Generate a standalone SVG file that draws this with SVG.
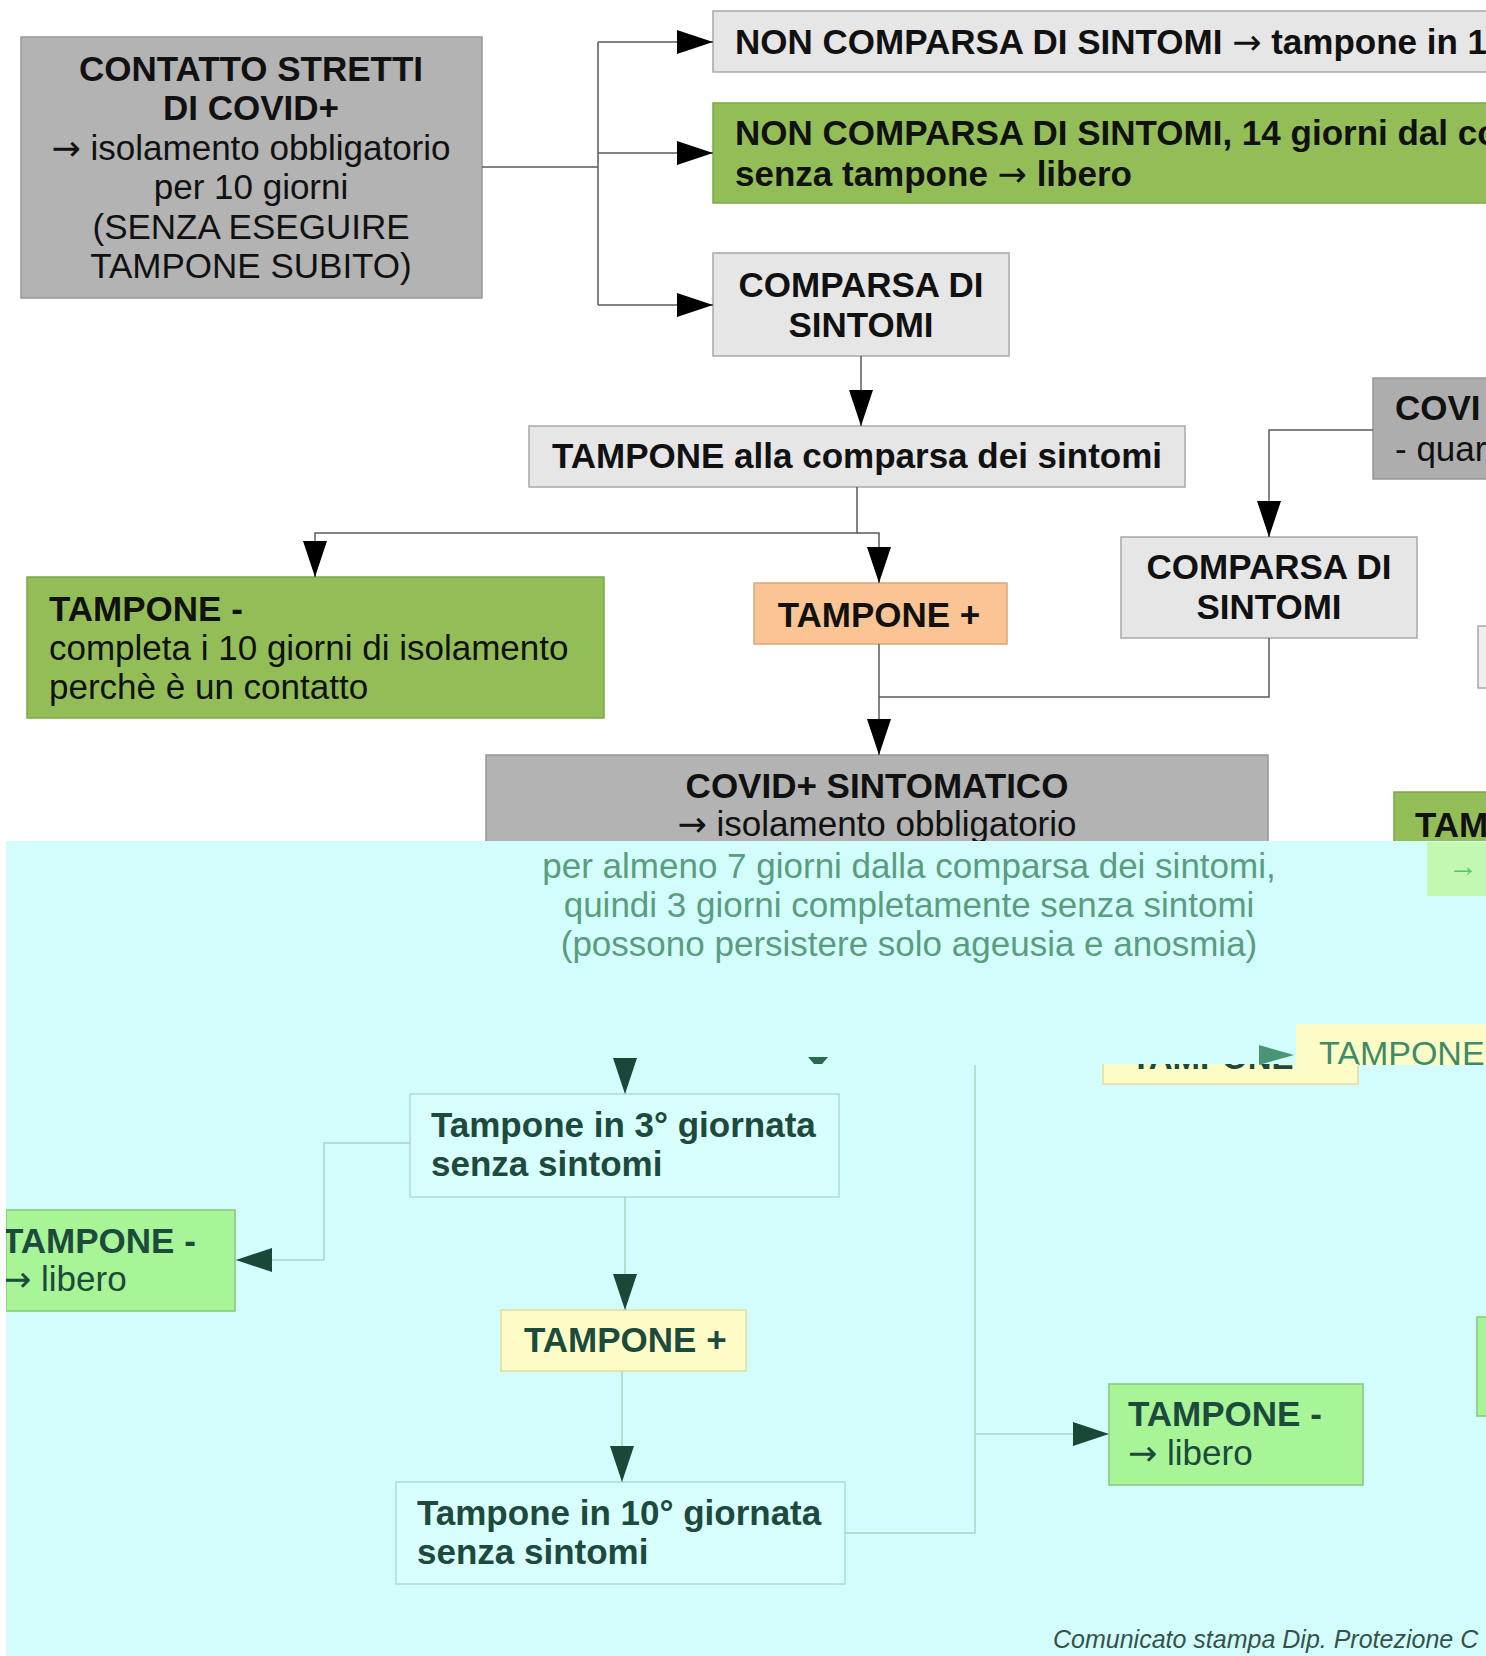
<svg xmlns="http://www.w3.org/2000/svg" width="1486" height="1656" viewBox="0 0 1486 1656">
<defs>
<style>
text { font-family: "Liberation Sans", Arial, sans-serif; font-size: 35px; fill: #111; }
.b { font-weight: bold; }
.g { fill: #1c4a3c; }
.m { text-anchor: middle; }
.mid { fill: #5a9d7e; }
.ar { font-family: "DejaVu Sans", sans-serif; font-size: 35px; font-weight: normal; }
.gray { fill: #b3b3b3; stroke: #989898; stroke-width: 1.5; }
.lg { fill: #e6e6e6; stroke: #a8a8a8; stroke-width: 1.5; }
.grn { fill: #93be57; stroke: #7ea848; stroke-width: 1.5; }
.org { fill: #fbc494; stroke: #d9a878; stroke-width: 1.5; }
.lgrn { fill: #a7f596; stroke: #86c878; stroke-width: 1.5; }
.yel { fill: #fdfcc7; stroke: #e2dca0; stroke-width: 1.5; }
.cyb { fill: #d9fefe; stroke: #acdcd2; stroke-width: 1.5; }
.c1 { fill: none; stroke: #5a5a5a; stroke-width: 1.5; }
.c2 { fill: none; stroke: #a4d6c6; stroke-width: 1.5; }
</style>
<marker id="ah" markerUnits="userSpaceOnUse" markerWidth="36" markerHeight="24" refX="36" refY="12" orient="auto"><path d="M0,0 L36,12 L0,24 z" fill="#000"/></marker>
<marker id="ahg" markerUnits="userSpaceOnUse" markerWidth="36" markerHeight="24" refX="36" refY="12" orient="auto"><path d="M0,0 L36,12 L0,24 z" fill="#1a4838"/></marker>
<clipPath id="seam"><rect x="1100" y="1064" width="300" height="30"/></clipPath>
</defs>
<rect x="0" y="0" width="1486" height="1656" fill="#ffffff"/>

<!-- top section nodes -->
<g id="contatto">
<rect class="gray" x="21" y="37" width="461" height="261"/>
<text class="b m" x="251" y="81">CONTATTO STRETTI</text>
<text class="b m" x="251" y="120">DI COVID+</text>
<text class="m" x="251" y="160"><tspan class="ar">→</tspan> isolamento obbligatorio</text>
<text class="m" x="251" y="199">per 10 giorni</text>
<text class="m" x="251" y="239">(SENZA ESEGUIRE</text>
<text class="m" x="251" y="278">TAMPONE SUBITO)</text>
</g>
<g id="non-comparsa-1">
<rect class="lg" x="713" y="11" width="790" height="61"/>
<text class="b" x="735" y="54">NON COMPARSA DI SINTOMI <tspan class="ar">→</tspan> tampone in 1</text>
</g>
<g id="non-comparsa-2">
<rect class="grn" x="713" y="103" width="790" height="100"/>
<text class="b" x="735" y="145">NON COMPARSA DI SINTOMI, 14 giorni dal co</text>
<text class="b" x="735" y="186">senza tampone <tspan class="ar">→</tspan> libero</text>
</g>
<g id="comparsa-1">
<rect class="lg" x="713" y="253" width="296" height="103"/>
<text class="b m" x="861" y="297">COMPARSA DI</text>
<text class="b m" x="861" y="337">SINTOMI</text>
</g>
<g id="tampone-alla">
<rect class="lg" x="529" y="426" width="656" height="61"/>
<text class="b m" x="857" y="468">TAMPONE alla comparsa dei sintomi</text>
</g>
<g id="tampone-neg-top">
<rect class="grn" x="27" y="577" width="577" height="141"/>
<text class="b" x="49" y="621">TAMPONE -</text>
<text x="49" y="660">completa i 10 giorni di isolamento</text>
<text x="49" y="699">perchè è un contatto</text>
</g>
<g id="tampone-pos-top">
<rect class="org" x="754" y="583" width="253" height="61"/>
<text class="b m" x="879" y="627">TAMPONE +</text>
</g>
<g id="covid-right">
<rect class="gray" x="1373" y="378" width="130" height="101" style="fill:#adadad"/>
<text class="b" x="1395" y="420">COVI</text>
<text x="1395" y="461">- quar</text>
</g>
<g id="comparsa-2">
<rect class="lg" x="1121" y="537" width="296" height="101"/>
<text class="b m" x="1269" y="579">COMPARSA DI</text>
<text class="b m" x="1269" y="619">SINTOMI</text>
</g>
<g id="edge-box">
<rect class="lg" x="1478" y="626" width="30" height="62" style="fill:#efefef"/>
</g>
<g id="covid-sintomatico">
<rect class="gray" x="486" y="755" width="782" height="120"/>
<text class="b m" x="877" y="798">COVID+ SINTOMATICO</text>
<text class="m" x="877" y="836"><tspan class="ar">→</tspan> isolamento obbligatorio</text>
</g>
<g id="tam-right">
<rect class="grn" x="1394" y="792" width="110" height="70"/>
<text class="b" x="1415" y="837">TAM</text>
</g>

<!-- top connectors -->
<g id="connectors-top">
<path class="c1" d="M482,167 H598 M598,42 V305"/>
<path class="c1" d="M598,42 H713" marker-end="url(#ah)"/>
<path class="c1" d="M598,153 H713" marker-end="url(#ah)"/>
<path class="c1" d="M598,305 H713" marker-end="url(#ah)"/>
<path class="c1" d="M861,356 V426" marker-end="url(#ah)"/>
<path class="c1" d="M857,487 V533 H315 V577" marker-end="url(#ah)"/>
<path class="c1" d="M857,533 H879 V583" marker-end="url(#ah)"/>
<path class="c1" d="M879,644 V755" marker-end="url(#ah)"/>
<path class="c1" d="M1269,638 V697 H879"/>
<path class="c1" d="M1373,430 H1269 V537" marker-end="url(#ah)"/>
</g>

<!-- cyan lower region -->
<rect x="6" y="841" width="1480" height="815" fill="#d3fdfd"/>
<rect x="1427" y="842" width="60" height="54" fill="#c2f8b2"/>
<text x="1448" y="876" style="fill:#5cc862;font-size:30px">→</text>

<g id="covid-sintomatico-cont">
<text class="m mid" x="909" y="878">per almeno 7 giorni dalla comparsa dei sintomi,</text>
<text class="m mid" x="909" y="917">quindi 3 giorni completamente senza sintomi</text>
<text class="m mid" x="909" y="956">(possono persistere solo ageusia e anosmia)</text>
</g>

<g id="tampone-yellow-right">
<rect x="1296" y="1024" width="200" height="41" fill="#fdfcc6"/>
<text x="1319" y="1065" style="fill:#3e8a6a;font-size:34px">TAMPONE</text>
</g>
<g id="tampone-yellow-mid">
<rect x="1103" y="1064" width="255" height="20" fill="#fdfcc6"/>
<path d="M1103,1064 V1084 H1358 V1064" fill="none" stroke="#e2dca0" stroke-width="1.5"/>
<text class="b g" x="1131" y="1069" clip-path="url(#seam)" style="font-size:33px">TAMPONE</text>
</g>

<g id="tampone-3">
<rect class="cyb" x="410" y="1094" width="429" height="103"/>
<text class="b g" x="431" y="1137">Tampone in 3° giornata</text>
<text class="b g" x="431" y="1176">senza sintomi</text>
</g>
<g id="tampone-neg-left">
<rect class="lgrn" x="6" y="1210" width="229" height="101"/>
<text class="b g" x="2" y="1253">TAMPONE -</text>
<text class="g" x="2" y="1291"><tspan class="ar">→</tspan> libero</text>
</g>
<g id="tampone-pos-bottom">
<rect class="yel" x="501" y="1310" width="245" height="61"/>
<text class="b g" x="524" y="1352">TAMPONE +</text>
</g>
<g id="tampone-10">
<rect class="cyb" x="396" y="1482" width="449" height="102"/>
<text class="b g" x="417" y="1525">Tampone in 10° giornata</text>
<text class="b g" x="417" y="1564">senza sintomi</text>
</g>
<g id="tampone-neg-bottom">
<rect class="lgrn" x="1109" y="1384" width="254" height="101"/>
<text class="b g" x="1128" y="1426">TAMPONE -</text>
<text class="g" x="1128" y="1465"><tspan class="ar">→</tspan> libero</text>
</g>
<g id="edge-green">
<rect class="lgrn" x="1477" y="1317" width="30" height="99"/>
</g>

<g id="connectors-bottom">
<polygon points="808,1057 828,1057 822,1064 814,1064" fill="#2a6a50"/>
<path class="c2" d="M625,1065 V1094" marker-end="url(#ahg)"/>
<path class="c2" d="M410,1143 H324 V1260 H236" marker-end="url(#ahg)"/>
<path class="c2" d="M625,1197 V1310" marker-end="url(#ahg)"/>
<path class="c2" d="M622,1371 V1482" marker-end="url(#ahg)"/>
<path class="c2" d="M845,1533 H975 V1065"/>
<path class="c2" d="M975,1434 H1109" marker-end="url(#ahg)"/>
<polygon points="1259,1045 1294,1055 1259,1065" fill="#4a9575"/>
</g>

<rect x="0" y="841" width="6" height="815" fill="#ffffff"/>
<text x="1053" y="1648" style="font-style:italic;font-size:25px;fill:#35524a">Comunicato stampa Dip. Protezione C</text>
</svg>
